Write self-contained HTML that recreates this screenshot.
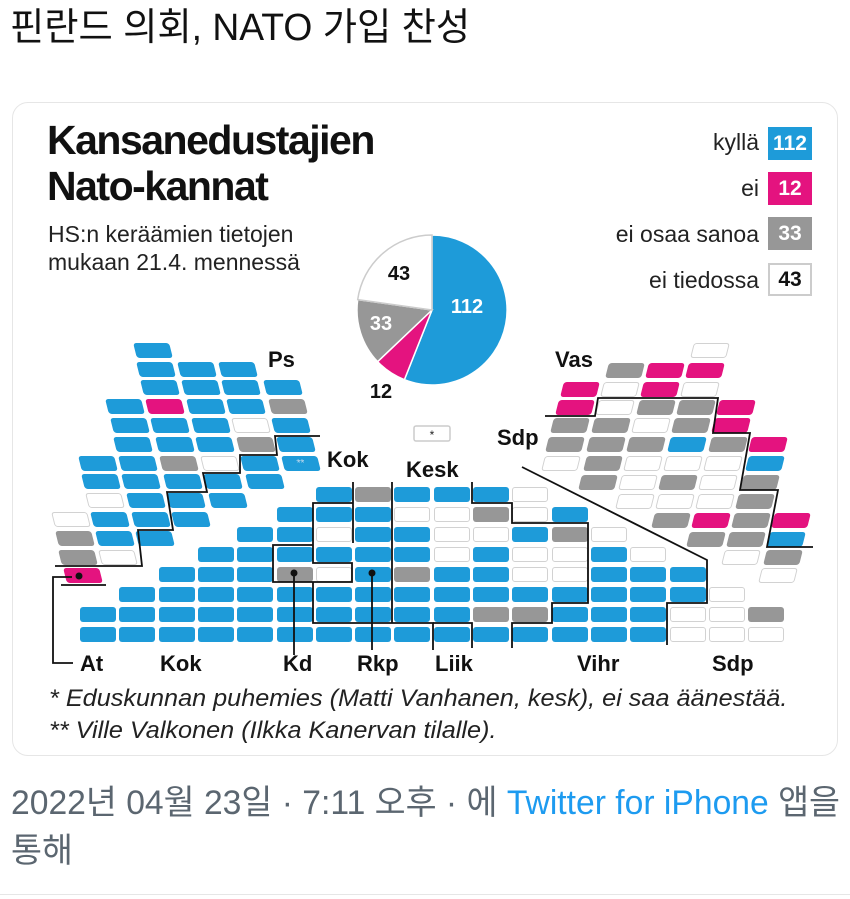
<!DOCTYPE html>
<html><head><meta charset="utf-8"><style>
body{margin:0;width:850px;height:899px;background:#fff;position:relative;overflow:hidden;font-family:"Liberation Sans","Noto Sans CJK KR",sans-serif}
.a{position:absolute;white-space:nowrap}
.card{position:absolute;left:12px;top:102px;width:824px;height:652px;border:1px solid #e6e6e6;border-radius:16px}
.s{position:absolute;width:36px;height:15px;border-radius:3px;box-sizing:border-box}
.l .s{transform:skewX(14deg)}
.r .s{transform:skewX(-14deg)}
.b{background:#1e9bd9}.m{background:#e4137f}.g{background:#979797}.w{background:#fff;border:1.5px solid #d2d2d2}
.lab{font-weight:bold;font-size:22px;color:#111}
.lg{font-size:23px;color:#222;text-align:right;width:300px}
.box{position:absolute;width:44px;height:33px;font-weight:bold;font-size:21px;color:#fff;text-align:center;line-height:33px;box-sizing:border-box}
</style></head><body>
<div class="a" style="left:10px;top:-4px;font-size:38px;color:#111;transform:scaleX(0.98);transform-origin:left">핀란드 의회, NATO 가입 찬성</div>
<div class="card"></div>
<div class="a" style="left:47px;top:117px;font-size:41px;font-weight:bold;letter-spacing:-1.5px;line-height:46px;color:#111">Kansanedustajien<br>Nato-kannat</div>
<div class="a" style="left:48px;top:220px;font-size:23px;line-height:28px;color:#222">HS:n keräämien tietojen<br>mukaan 21.4. mennessä</div>

<div class="a lg" style="left:459px;top:129px">kyllä</div>
<div class="a lg" style="left:459px;top:175px">ei</div>
<div class="a lg" style="left:459px;top:221px">ei osaa sanoa</div>
<div class="a lg" style="left:459px;top:267px">ei tiedossa</div>
<div class="box b" style="left:768px;top:127px">112</div>
<div class="box m" style="left:768px;top:172px">12</div>
<div class="box g" style="left:768px;top:217px">33</div>
<div class="box w" style="left:768px;top:263px;color:#111;border:2px solid #ccc;line-height:29px">43</div>

<svg class="a" style="left:0;top:0" width="850" height="899">
<g stroke="#fff" stroke-width="1.5">
<path d="M432,310 L432,235 A75,75 0 1 1 404.4,379.7 Z" fill="#1e9bd9"/>
<path d="M432,310 L404.4,379.7 A75,75 0 0 1 377.6,361.7 Z" fill="#e4137f"/>
<path d="M432,310 L377.6,361.7 A75,75 0 0 1 357.7,299.6 Z" fill="#979797"/>
<path d="M432,310 L357.7,299.6 A75,75 0 0 1 432,235 Z" fill="#fff" stroke="#ccc"/>
</g>
<g font-family="Liberation Sans" font-weight="bold" font-size="20" text-anchor="middle">
<text x="467" y="313" fill="#fff">112</text>
<text x="381" y="330" fill="#fff">33</text>
<text x="399" y="280" fill="#111">43</text>
<text x="381" y="398" fill="#111">12</text>
</g>
<rect x="414" y="426" width="36" height="15" rx="2" fill="#fff" stroke="#ccc" stroke-width="1.5"/>
<text x="432" y="439" font-size="12" text-anchor="middle" fill="#222">*</text>
</svg>

<div class="a lab" style="left:268px;top:347px">Ps</div>
<div class="a lab" style="left:327px;top:447px">Kok</div>
<div class="a lab" style="left:406px;top:457px">Kesk</div>
<div class="a lab" style="left:555px;top:347px">Vas</div>
<div class="a lab" style="left:497px;top:425px">Sdp</div>

<div class="l">
<div class="s b" style="left:135px;top:343px"></div>
<div class="s b" style="left:138px;top:362px"></div><div class="s b" style="left:179px;top:362px"></div><div class="s b" style="left:220px;top:362px"></div>
<div class="s b" style="left:142px;top:380px"></div><div class="s b" style="left:183px;top:380px"></div><div class="s b" style="left:223px;top:380px"></div><div class="s b" style="left:265px;top:380px"></div>
<div class="s b" style="left:107px;top:399px"></div><div class="s m" style="left:147px;top:399px"></div><div class="s b" style="left:188px;top:399px"></div><div class="s b" style="left:228px;top:399px"></div><div class="s g" style="left:270px;top:399px"></div>
<div class="s b" style="left:112px;top:418px"></div><div class="s b" style="left:152px;top:418px"></div><div class="s b" style="left:193px;top:418px"></div><div class="s w" style="left:233px;top:418px"></div><div class="s b" style="left:273px;top:418px"></div>
<div class="s b" style="left:115px;top:437px"></div><div class="s b" style="left:157px;top:437px"></div><div class="s b" style="left:197px;top:437px"></div><div class="s g" style="left:238px;top:437px"></div><div class="s b" style="left:278px;top:437px"></div>
<div class="s b" style="left:80px;top:456px"></div><div class="s b" style="left:120px;top:456px"></div><div class="s g" style="left:161px;top:456px"></div><div class="s w" style="left:202px;top:456px"></div><div class="s b" style="left:242px;top:456px"></div><div class="s b" style="left:283px;top:456px;color:#cde;font-size:10px;text-align:center;line-height:15px">**</div>
<div class="s b" style="left:83px;top:474px"></div><div class="s b" style="left:123px;top:474px"></div><div class="s b" style="left:165px;top:474px"></div><div class="s b" style="left:205px;top:474px"></div><div class="s b" style="left:247px;top:474px"></div>
<div class="s w" style="left:87px;top:493px"></div><div class="s b" style="left:128px;top:493px"></div><div class="s b" style="left:168px;top:493px"></div><div class="s b" style="left:210px;top:493px"></div>
<div class="s w" style="left:53px;top:512px"></div><div class="s b" style="left:92px;top:512px"></div><div class="s b" style="left:133px;top:512px"></div><div class="s b" style="left:173px;top:512px"></div>
<div class="s g" style="left:57px;top:531px"></div><div class="s b" style="left:97px;top:531px"></div><div class="s b" style="left:137px;top:531px"></div>
<div class="s g" style="left:60px;top:550px"></div><div class="s w" style="left:100px;top:550px"></div>
<div class="s m" style="left:65px;top:568px"></div>
</div>

<div class="r">
<div class="s w" style="left:692px;top:343px"></div>
<div class="s g" style="left:607px;top:363px"></div><div class="s m" style="left:647px;top:363px"></div><div class="s m" style="left:687px;top:363px"></div>
<div class="s m" style="left:562px;top:382px"></div><div class="s w" style="left:602px;top:382px"></div><div class="s m" style="left:642px;top:382px"></div><div class="s w" style="left:682px;top:382px"></div>
<div class="s m" style="left:557px;top:400px"></div><div class="s w" style="left:597px;top:400px"></div><div class="s g" style="left:638px;top:400px"></div><div class="s g" style="left:678px;top:400px"></div><div class="s m" style="left:718px;top:400px"></div>
<div class="s g" style="left:552px;top:418px"></div><div class="s g" style="left:593px;top:418px"></div><div class="s w" style="left:633px;top:418px"></div><div class="s g" style="left:673px;top:418px"></div><div class="s m" style="left:713px;top:418px"></div>
<div class="s g" style="left:547px;top:437px"></div><div class="s g" style="left:588px;top:437px"></div><div class="s g" style="left:628px;top:437px"></div><div class="s b" style="left:669px;top:437px"></div><div class="s g" style="left:710px;top:437px"></div><div class="s m" style="left:750px;top:437px"></div>
<div class="s w" style="left:543px;top:456px"></div><div class="s g" style="left:585px;top:456px"></div><div class="s w" style="left:625px;top:456px"></div><div class="s w" style="left:665px;top:456px"></div><div class="s w" style="left:705px;top:456px"></div><div class="s b" style="left:747px;top:456px"></div>
<div class="s g" style="left:580px;top:475px"></div><div class="s w" style="left:620px;top:475px"></div><div class="s g" style="left:660px;top:475px"></div><div class="s w" style="left:700px;top:475px"></div><div class="s g" style="left:742px;top:475px"></div>
<div class="s w" style="left:617px;top:494px"></div><div class="s w" style="left:657px;top:494px"></div><div class="s w" style="left:697px;top:494px"></div><div class="s g" style="left:737px;top:494px"></div>
<div class="s g" style="left:653px;top:513px"></div><div class="s m" style="left:693px;top:513px"></div><div class="s g" style="left:733px;top:513px"></div><div class="s m" style="left:773px;top:513px"></div>
<div class="s g" style="left:688px;top:532px"></div><div class="s g" style="left:728px;top:532px"></div><div class="s b" style="left:768px;top:532px"></div>
<div class="s w" style="left:723px;top:550px"></div><div class="s g" style="left:765px;top:550px"></div>
<div class="s w" style="left:760px;top:568px"></div>
</div>

<div>
<div class="s b" style="left:316px;top:487px"></div><div class="s g" style="left:355px;top:487px"></div><div class="s b" style="left:394px;top:487px"></div><div class="s b" style="left:434px;top:487px"></div><div class="s b" style="left:473px;top:487px"></div><div class="s w" style="left:512px;top:487px"></div>
<div class="s b" style="left:277px;top:507px"></div><div class="s b" style="left:316px;top:507px"></div><div class="s b" style="left:355px;top:507px"></div><div class="s w" style="left:394px;top:507px"></div><div class="s w" style="left:434px;top:507px"></div><div class="s g" style="left:473px;top:507px"></div><div class="s w" style="left:512px;top:507px"></div><div class="s b" style="left:552px;top:507px"></div>
<div class="s b" style="left:237px;top:527px"></div><div class="s b" style="left:277px;top:527px"></div><div class="s w" style="left:316px;top:527px"></div><div class="s b" style="left:355px;top:527px"></div><div class="s b" style="left:394px;top:527px"></div><div class="s w" style="left:434px;top:527px"></div><div class="s w" style="left:473px;top:527px"></div><div class="s b" style="left:512px;top:527px"></div><div class="s g" style="left:552px;top:527px"></div><div class="s w" style="left:591px;top:527px"></div>
<div class="s b" style="left:198px;top:547px"></div><div class="s b" style="left:237px;top:547px"></div><div class="s b" style="left:277px;top:547px"></div><div class="s b" style="left:316px;top:547px"></div><div class="s b" style="left:355px;top:547px"></div><div class="s b" style="left:394px;top:547px"></div><div class="s w" style="left:434px;top:547px"></div><div class="s b" style="left:473px;top:547px"></div><div class="s w" style="left:512px;top:547px"></div><div class="s w" style="left:552px;top:547px"></div><div class="s b" style="left:591px;top:547px"></div><div class="s w" style="left:630px;top:547px"></div>
<div class="s b" style="left:159px;top:567px"></div><div class="s b" style="left:198px;top:567px"></div><div class="s b" style="left:237px;top:567px"></div><div class="s g" style="left:277px;top:567px"></div><div class="s w" style="left:316px;top:567px"></div><div class="s b" style="left:355px;top:567px"></div><div class="s g" style="left:394px;top:567px"></div><div class="s b" style="left:434px;top:567px"></div><div class="s b" style="left:473px;top:567px"></div><div class="s w" style="left:512px;top:567px"></div><div class="s w" style="left:552px;top:567px"></div><div class="s b" style="left:591px;top:567px"></div><div class="s b" style="left:630px;top:567px"></div><div class="s b" style="left:670px;top:567px"></div>
<div class="s b" style="left:119px;top:587px"></div><div class="s b" style="left:159px;top:587px"></div><div class="s b" style="left:198px;top:587px"></div><div class="s b" style="left:237px;top:587px"></div><div class="s b" style="left:277px;top:587px"></div><div class="s b" style="left:316px;top:587px"></div><div class="s b" style="left:355px;top:587px"></div><div class="s b" style="left:394px;top:587px"></div><div class="s b" style="left:434px;top:587px"></div><div class="s b" style="left:473px;top:587px"></div><div class="s b" style="left:512px;top:587px"></div><div class="s b" style="left:552px;top:587px"></div><div class="s b" style="left:591px;top:587px"></div><div class="s b" style="left:630px;top:587px"></div><div class="s b" style="left:670px;top:587px"></div><div class="s w" style="left:709px;top:587px"></div>
<div class="s b" style="left:80px;top:607px"></div><div class="s b" style="left:119px;top:607px"></div><div class="s b" style="left:159px;top:607px"></div><div class="s b" style="left:198px;top:607px"></div><div class="s b" style="left:237px;top:607px"></div><div class="s b" style="left:277px;top:607px"></div><div class="s b" style="left:316px;top:607px"></div><div class="s b" style="left:355px;top:607px"></div><div class="s b" style="left:394px;top:607px"></div><div class="s b" style="left:434px;top:607px"></div><div class="s g" style="left:473px;top:607px"></div><div class="s g" style="left:512px;top:607px"></div><div class="s b" style="left:552px;top:607px"></div><div class="s b" style="left:591px;top:607px"></div><div class="s b" style="left:630px;top:607px"></div><div class="s w" style="left:670px;top:607px"></div><div class="s w" style="left:709px;top:607px"></div><div class="s g" style="left:748px;top:607px"></div>
<div class="s b" style="left:80px;top:627px"></div><div class="s b" style="left:119px;top:627px"></div><div class="s b" style="left:159px;top:627px"></div><div class="s b" style="left:198px;top:627px"></div><div class="s b" style="left:237px;top:627px"></div><div class="s b" style="left:277px;top:627px"></div><div class="s b" style="left:316px;top:627px"></div><div class="s b" style="left:355px;top:627px"></div><div class="s b" style="left:394px;top:627px"></div><div class="s b" style="left:434px;top:627px"></div><div class="s b" style="left:473px;top:627px"></div><div class="s b" style="left:512px;top:627px"></div><div class="s b" style="left:552px;top:627px"></div><div class="s b" style="left:591px;top:627px"></div><div class="s b" style="left:630px;top:627px"></div><div class="s w" style="left:670px;top:627px"></div><div class="s w" style="left:709px;top:627px"></div><div class="s w" style="left:748px;top:627px"></div>
</div>

<svg class="a" style="left:0;top:0" width="850" height="899">
<g fill="none" stroke="#111" stroke-width="1.8">
<polyline points="55,566 142,566 138,530 173,530 167,492 207,492 203,473 240,473 240,455 277,455 275,436 320,436"/>
<polyline points="61,585 106,585"/>
<polyline points="72,577 53,577 53,663 73,663"/>
<polyline points="353,482 353,543"/>
<polyline points="392,482 392,623"/>
<polyline points="353,503 313,503 313,563 352,563 352,582 273,582 273,545 313,545"/>
<polyline points="313,582 313,623 433,623 433,650"/>
<polyline points="294,573 294,655"/>
<polyline points="372,573 372,650"/>
<polyline points="472,482 472,503 512,503 512,523 588,523 588,603 552,603 552,623 512,623 512,648"/>
<polyline points="433,623 472,623 472,648"/>
<polyline points="522,467 707,560 707,603 667,603 667,645"/>
<polyline points="545,416 595,416 598,398 718,398 713,433 750,433 740,490 778,490 767,547 813,547"/>
</g>
<circle cx="79" cy="576" r="3.5" fill="#111"/>
<circle cx="294" cy="573" r="3.5" fill="#111"/>
<circle cx="372" cy="573" r="3.5" fill="#111"/>
</svg>

<div class="a lab" style="left:80px;top:651px">At</div>
<div class="a lab" style="left:160px;top:651px">Kok</div>
<div class="a lab" style="left:283px;top:651px">Kd</div>
<div class="a lab" style="left:357px;top:651px">Rkp</div>
<div class="a lab" style="left:435px;top:651px">Liik</div>
<div class="a lab" style="left:577px;top:651px">Vihr</div>
<div class="a lab" style="left:712px;top:651px">Sdp</div>

<div class="a" style="left:49px;top:683px;font-size:24.5px;font-style:italic;color:#222;line-height:32px;transform:scaleX(1.03);transform-origin:left">* Eduskunnan puhemies (Matti Vanhanen, kesk), ei saa äänestää.<br>** Ville Valkonen (Ilkka Kanervan tilalle).</div>

<div class="a" style="left:11px;top:779px;font-size:34px;color:#5b6670;line-height:48px;transform:scaleX(0.99);transform-origin:left">2022년 04월 23일 · 7:11 오후 · 에 <span style="color:#1d9bf0">Twitter for iPhone</span> 앱을<br>통해</div>
<div class="a" style="left:0;top:894px;width:850px;height:1px;background:#e6e6e6"></div>
</body></html>
